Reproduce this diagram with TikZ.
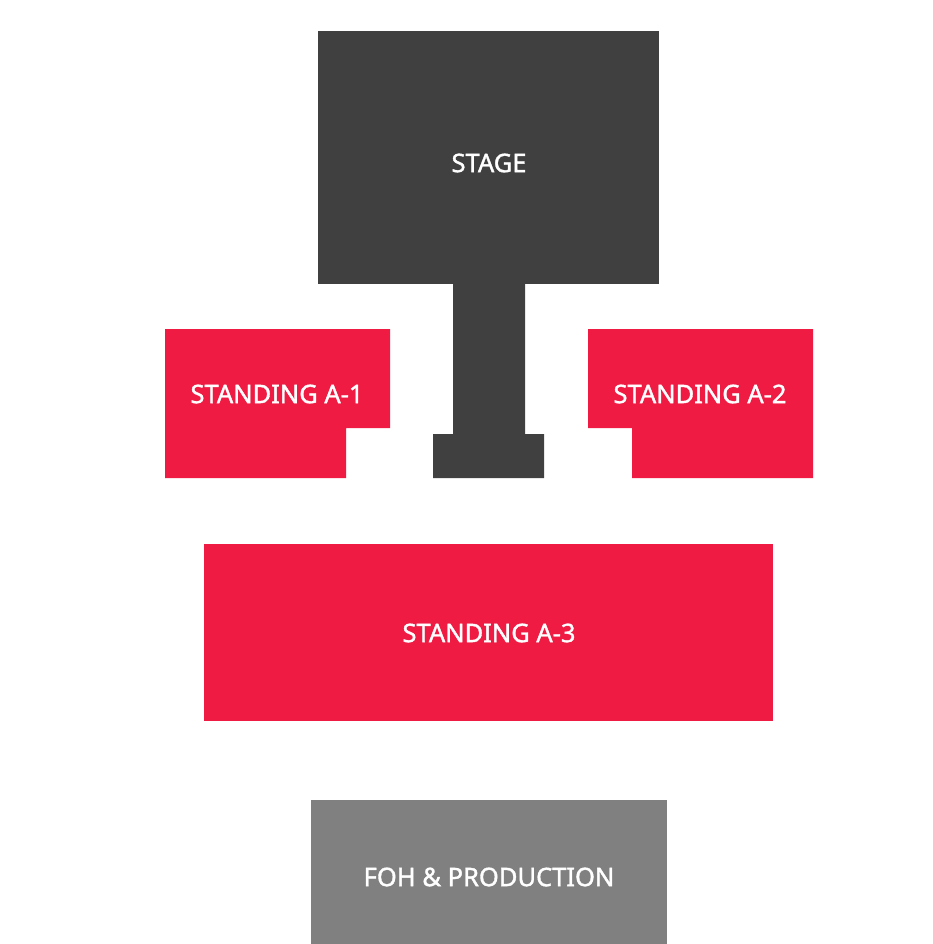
\documentclass[tikz,border=0pt]{standalone}
\usepackage{fontspec}
\setmainfont{Noto Sans}
\newfontfamily\lblfont[FakeBold=1.4]{Noto Sans}
\usepackage{tikz}
\usetikzlibrary{positioning}
\definecolor{standred}{HTML}{EF1B43}
\definecolor{stagegrey}{HTML}{404040}
\definecolor{fohgrey}{HTML}{808080}
\tikzset{
  standing/.style = {fill=standred, draw=none},
  stagepart/.style = {fill=stagegrey, draw=none},
  lbl/.style = {text=white, inner sep=0pt,
    font=\lblfont\fontsize{25.5}{30}\selectfont}
}

\begin{document}
\begin{tikzpicture}[x=1pt, y=-1pt]
\useasboundingbox (0,0) rectangle (933,944);
% stage with runway
\fill [stagepart] (318,31) rectangle (659,284);
\fill [stagepart] (453,283) -- (525,283) -- (525,434) -- (544,434)
  -- (544,478) -- (433,478) -- (433,434) -- (453,434) -- cycle;
% standing areas
\fill [standing] (165,329) -- (390,329) -- (390,428) -- (346,428)
  -- (346,478) -- (165,478) -- cycle;
\fill [standing] (588,329) -- (813,329) -- (813,478) -- (632,478)
  -- (632,428) -- (588,428) -- cycle;
\fill [standing] (204,544) rectangle (773,721);
% foh
\fill [fill=fohgrey] (311,800) rectangle (667,944);
% labels
\node [lbl] (stage) at (489,163) {STAGE};
\node [lbl] (a1) at (277,394) {STANDING A-1};
\node [lbl] (a2) at (700,394) {STANDING A-2};
\node [lbl] (a3) at (489,633) {STANDING A-3};
\node [lbl] (foh) at (489,877) {FOH \& PRODUCTION};
\end{tikzpicture}
\end{document}
